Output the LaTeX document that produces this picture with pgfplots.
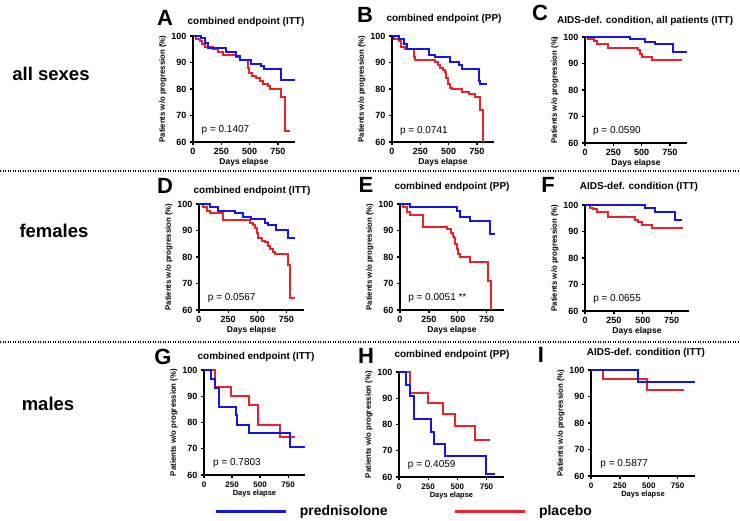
\documentclass[border=0pt]{standalone}
\usepackage{pgfplots}
\pgfplotsset{compat=1.18}
\usepackage{fontspec}
\setmainfont{Liberation Sans}
\definecolor{kmblue}{RGB}{20,20,235}
\definecolor{kmred}{RGB}{235,35,40}
\tikzset{pv/.style={anchor=west, inner sep=0pt, font=\fontsize{10}{12}\selectfont}}
\pgfplotsset{
  km/.style={
    scale only axis, width=102pt, height=106pt,
    xmin=0, xmax=900, ymin=60, ymax=100,
    axis lines*=left,
    axis line style={line width=1.5pt,-},
    xtick={0,250,500,750}, ytick={60,70,80,90,100},
    major tick style={line width=1.3pt,black},
    tick align=outside, major tick length=3pt,
    /pgf/number format/assume math mode=true,
    tick label style={font=\bfseries\fontsize{9}{10}\selectfont},
    xlabel={Days elapse}, ylabel={Patients w/o progression (\%)},
    xlabel style={font=\bfseries\fontsize{8.5}{9}\selectfont, yshift=3pt},
    ylabel style={font=\bfseries\fontsize{7.8}{8}\selectfont, yshift=-2pt},
    every axis plot/.append style={const plot, line width=2pt},
    anchor=south west, clip=false,
  },
  kmsmall/.style={
    xticklabel style={font=\bfseries\fontsize{8}{9}\selectfont},
    xlabel style={font=\bfseries\fontsize{7.5}{8}\selectfont, yshift=1pt},
  },
}
\begin{document}
\begin{tikzpicture}[x=1pt,y=1pt]
\useasboundingbox (0,0) rectangle (740,521);
\tikzset{ttl/.style={font=\bfseries\fontsize{10}{12}\selectfont, inner sep=0pt},
 let/.style={font=\bfseries\fontsize{22}{24}\selectfont, inner sep=0pt},
 row/.style={font=\bfseries\fontsize{18.5}{20}\selectfont, inner sep=0pt}}
% row labels
\node[row] at (51,447) {all sexes};
\node[row] at (54,290) {females};
\node[row] at (48,117) {males};
% separators
\draw[line width=1.5pt, dash pattern=on 1.2pt off 1.3pt] (0,350) -- (740,350);
\draw[line width=1.5pt, dash pattern=on 1.2pt off 1.3pt] (0,179) -- (740,179);
% letters
\node[let] at (165,503) {A};
\node[let] at (365,506) {B};
\node[let] at (540,508) {C};
\node[let] at (165,335) {D};
\node[let] at (366,336) {E};
\node[let] at (548,336) {F};
\node[let] at (163,164) {G};
\node[let] at (366,165) {H};
\node[let] at (541,166) {I};
% titles
\node[ttl] at (246,499) {combined endpoint (ITT)};
\node[ttl] at (444,502) {combined endpoint (PP)};
\node[ttl,anchor=west] at (557,500) {AIDS-def. condition, all patients (ITT)};
\node[ttl] at (252,330) {combined endpoint (ITT)};
\node[ttl] at (452,334) {combined endpoint (PP)};
\node[ttl] at (639,334) {AIDS-def. condition (ITT)};
\node[ttl] at (256,164) {combined endpoint (ITT)};
\node[ttl] at (452,166) {combined endpoint (PP)};
\node[ttl] at (646,168) {AIDS-def. condition (ITT)};

% A
\begin{axis}[km, at={(193pt,379pt)}]
\addplot[kmred] coordinates {(0,100)(30,99)(59,98)(80,97)(103,96)(176,95)(220,94)(265,93)(380,92)(412,91)(485,88)(495,86)(520,85)(560,84)(590,83)(620,82)(660,81)(676,80)(780,77)(809,64)(853,64)};
\addplot[kmblue] coordinates {(0,100)(74,99.3)(103,97.5)(132,95.5)(294,94)(382,92.5)(412,91)(515,89.5)(600,88.5)(630,87.5)(780,83.5)(897,83.5)};
\node[pv] at (axis cs:75,64.5) {p = 0.1407};
\end{axis}
% B
\begin{axis}[km, at={(392pt,379pt)}]
\addplot[kmred] coordinates {(0,100)(15,99)(59,98)(80,96)(118,95)(191,92)(206,91)(380,90)(410,89)(425,88)(450,87)(470,86.5)(480,84)(495,82)(515,80.5)(529,80)(618,79)(676,78)(735,77)(780,72)(800,60)};
\addplot[kmblue] coordinates {(0,100)(59,99)(103,97)(132,95)(323,93)(382,92)(515,90)(588,89)(620,87.5)(765,83)(780,82)(838,82)};
\node[pv] at (axis cs:70,64.3) {p = 0.0741};
\end{axis}
% C
\begin{axis}[km, at={(585pt,378pt)}]
\addplot[kmred] coordinates {(0,100)(29,99.2)(75,98.5)(103,97.5)(206,96)(470,95)(485,93.5)(500,92.5)(588,91.5)(853,91.5)};
\addplot[kmblue] coordinates {(0,100)(397,99.2)(529,98.2)(617,97.3)(780,94.5)(897,94.5)};
\node[pv] at (axis cs:70,64.6) {p = 0.0590};
\end{axis}
% D
\begin{axis}[km, width=105pt, at={(199pt,211pt)}]
\addplot[kmred] coordinates {(0,100)(37,99)(66,97.5)(94,96.5)(202,94)(436,93)(464,92)(479,91)(493,89)(507,87)(536,86)(564,85.5)(593,84)(607,83)(635,82)(650,81)(760,77)(783,64.5)(820,64.5)};
\addplot[kmblue] coordinates {(0,100)(94,99)(160,97.5)(308,96.5)(379,95)(450,94.5)(564,93)(593,92)(664,90)(763,87)(820,87)};
\node[pv] at (axis cs:75,64.5) {p = 0.0567};
\end{axis}
% E
\begin{axis}[km, width=104pt, at={(400pt,211pt)}]
\addplot[kmred] coordinates {(0,100)(29,99)(58,97)(86,96)(202,91.5)(403,90.5)(440,89)(455,88)(470,87)(480,85)(490,83)(500,81)(519,80)(605,78)(765,71)(790,60)};
\addplot[kmblue] coordinates {(0,100)(86,98.8)(490,97.5)(519,95.2)(605,93.5)(778,88.5)(821,88.5)};
\node[pv] at (axis cs:70,64.5) {p = 0.0051 **};
\end{axis}
% F
\begin{axis}[km, width=104pt, at={(585pt,210pt)}]
\addplot[kmred] coordinates {(0,100)(43,99)(72,98.5)(101,97.5)(202,95.5)(432,94.5)(461,93.5)(490,92.5)(576,91.2)(850,91.2)};
\addplot[kmblue] coordinates {(0,100)(519,99)(605,97.5)(778,94.3)(836,94.3)};
\node[pv] at (axis cs:70,64.5) {p = 0.0655};
\end{axis}
% G
\begin{axis}[km, kmsmall, width=101pt, height=105pt, at={(204pt,46pt)}]
\addplot[kmred] coordinates {(0,100)(100,93.5)(244,90)(400,86.5)(482,79)(676,74.5)(810,74.5)};
\addplot[kmblue] coordinates {(0,100)(65,96.5)(95,93)(131,86)(285,83)(295,79)(400,76)(770,70.5)(899,70.5)};
\node[pv] at (axis cs:80,64.6) {p = 0.7803};
\end{axis}
% H
\begin{axis}[km, kmsmall, width=105pt, height=105pt, at={(399pt,44pt)},
  legend style={at={(axis description cs:0.05,-0.33)}, anchor=center, draw=none, fill=none,
    legend columns=2, font=\bfseries\fontsize{14}{15}\selectfont,
    /tikz/every even column/.append style={column sep=64pt}},
  legend image code/.code={\draw[#1, line width=2.6pt] (0pt,0pt) -- (70pt,0pt); \path[draw=none] (0pt,0pt) -- (82pt,0pt);}]
\addplot[kmred, forget plot] coordinates {(0,100)(92,92)(249,88)(378,84)(478,79.5)(650,74)(780,74)};
\addplot[kmblue, forget plot] coordinates {(0,100)(57,95)(97,91)(126,82)(278,77)(300,72.5)(392,68)(750,61)(822,61)};
\node[pv] at (axis cs:75,64.5) {p = 0.4059};
\addlegendimage{kmblue}
\addlegendentry{prednisolone}
\addlegendimage{kmred}
\addlegendentry{placebo}
\end{axis}
% I
\begin{axis}[km, kmsmall, width=104pt, height=106pt, at={(591pt,45pt)}]
\addplot[kmred] coordinates {(0,100)(107,96.5)(481,92.3)(804,92.3)};
\addplot[kmblue] coordinates {(0,100)(403,95.6)(900,95.6)};
\node[pv] at (axis cs:80,64.6) {p = 0.5877};
\end{axis}
\end{tikzpicture}
\end{document}
